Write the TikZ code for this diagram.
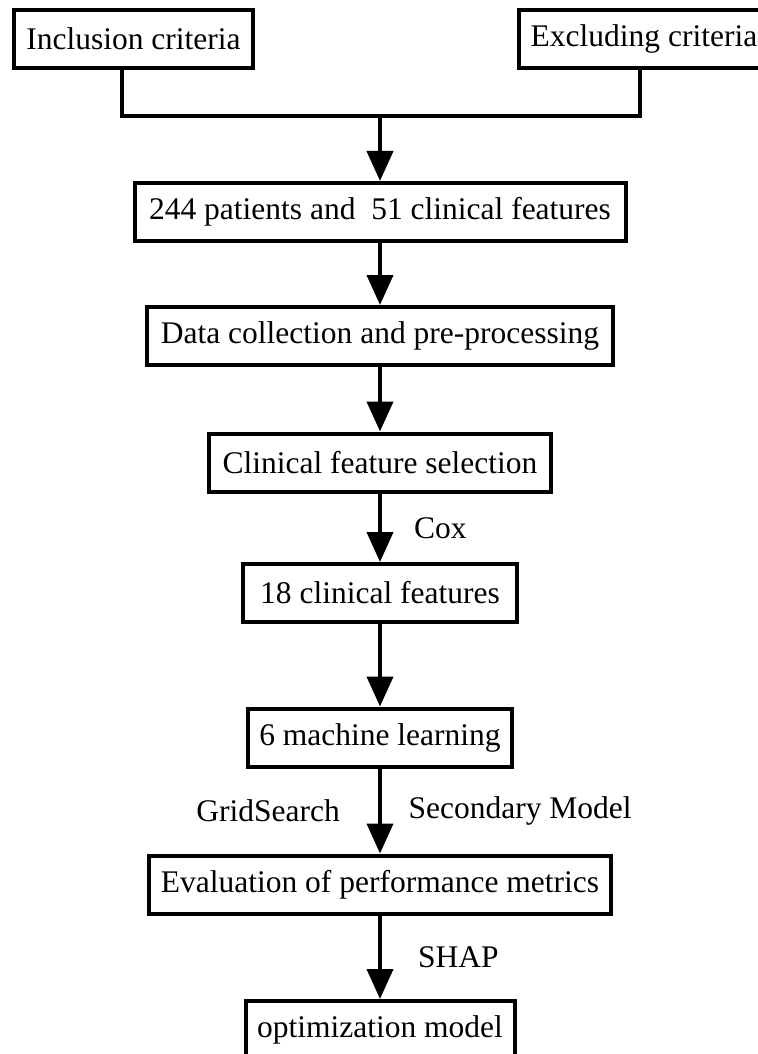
\documentclass[tikz,border=0pt]{standalone}
\usepackage{fontspec}
\setmainfont{Liberation Serif}
\usetikzlibrary{positioning,arrows.meta}

\begin{document}
\begin{tikzpicture}[node distance=62pt, font=\fontsize{15.75}{19}\selectfont]
    \useasboundingbox (-66.75pt,19.5pt) rectangle (311.75pt,-507.5pt);

    \tikzstyle{rect} = [rectangle, minimum height=29pt, text centered, draw=black, line width=2pt, inner sep=0pt]
    \tikzstyle{connector} = [line width=2pt]
    \tikzstyle{arrow} = [line width=2pt, -{Triangle[length=15pt, width=13pt]}]

            % node[options](name){text}
            \node (Inclusion) [rect, minimum width=119.5pt] {Inclusion criteria};
            \node (Excluding) [rect, minimum width=125pt, xshift=255.25pt] {Excluding criteria};

            \node (Join) [coordinate, below of=Inclusion, xshift=123.25pt, yshift=23.5pt] {};

            \node (Patients) [rect, minimum width=245.5pt, below of=Join, yshift=14pt] {244 patients and~~51 clinical features};
            \node (Collection) [rect, minimum width=233pt, below of=Patients] {Data collection and pre-processing};
            \node (Selection) [rect, minimum width=171pt, below of=Collection, yshift=-1.25pt] {Clinical feature selection};
            \node (Features) [rect, minimum width=137pt, below of=Selection, yshift=-3.25pt] {18 clinical features};
            \node (Learning) [rect, minimum width=132pt, below of=Features, yshift=-10.25pt] {6 machine learning};
            \node (Evaluation) [rect, minimum width=231pt, below of=Learning, yshift=-11.5pt] {Evaluation of performance metrics};
            \node (Optimization) [rect, minimum width=134.5pt, below of=Evaluation, yshift=-10.75pt] {optimization model};

            % ----- ----- ----- ----- ----- ----- ----- ----- ----- ----- ----- -----

            \draw [connector] ([xshift=-5.75pt]Inclusion.south) |- (Join);
            \draw [connector] ([xshift=-2pt]Excluding.south) |- (Join);
            \draw [arrow] (Join) -- (Patients);
            \draw [arrow] (Patients) -- (Collection);
            \draw [arrow] (Collection) -- (Selection);
            \draw [arrow] (Selection) -- node[anchor=west, xshift=12.7pt] {Cox} (Features);
            \draw [arrow] (Features) -- (Learning);
            \draw [arrow] (Learning) -- node[anchor=east, xshift=-15.7pt] {GridSearch} node[anchor=west, xshift=10pt] {Secondary Model} (Evaluation);
            \draw [arrow] (Evaluation) -- node[anchor=west, xshift=14.7pt] {SHAP} (Optimization);
\end{tikzpicture}
\end{document}
